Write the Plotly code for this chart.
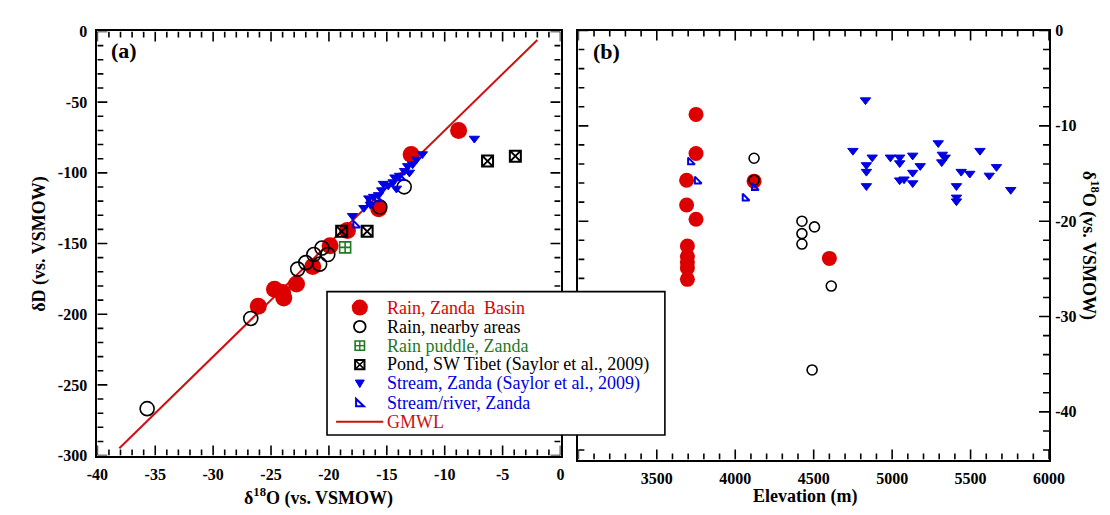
import plotly.graph_objects as go

# ---------------- data: panel (a) dD vs d18O ----------------
rain_zanda_d18O_a = [-8.8, -12.9, -15.7, -18.4, -19.9, -21.4, -22.8, -24.7, -24.0, -23.9, -26.1]
rain_zanda_dD_a = [-70.0, -87.1, -125.4, -140.7, -151.6, -166.2, -178.7, -182.4, -184.7, -188.6, -194.3]

rain_near_d18O_a = [-35.7, -26.75, -22.7, -22.0, -21.3, -20.8, -20.6, -20.1, -15.6, -13.5]
rain_near_dD_a = [-266.8, -203.0, -168.1, -163.5, -157.8, -164.6, -153.2, -157.8, -124.2, -109.9]

puddle_d18O_a = [-18.6]
puddle_dD_a = [-152.7]

pond_d18O_a = [-18.9, -16.7, -6.3, -3.9]
pond_dD_a = [-141.4, -141.4, -91.7, -88.2]

stream_saylor_d18O_a = [-7.44, -11.93, -12.44, -12.77, -13.2, -13.47, -13.05, -13.9, -14.3, -14.46,
                        -14.88, -15.3, -15.44, -14.17, -15.72, -16.14, -16.56, -16.42, -16.98, -17.96]
stream_saylor_dD_a = [-75.7, -86.7, -90.5, -93.9, -95.1, -98.5, -99.7, -101.9, -103.1, -106.5,
                      -108.8, -107.6, -112.2, -111.0, -115.6, -116.8, -117.9, -122.4, -124.7, -130.4]

stream_river_d18O_a = [-13.8, -15.8, -16.5, -17.7]
stream_river_dD_a = [-103.5, -118.5, -121.0, -137.0]

gmwl_d18O = [-38.1, -2.0]
gmwl_dD = [-294.8, -6.0]

# ---------------- data: panel (b) d18O vs elevation ----------------
rain_zanda_elev_b = [3750, 3750, 3690, 3690, 3750, 3695, 3695, 3695, 3695, 3695, 4600, 4120]
rain_zanda_d18O_b = [-8.8, -12.9, -15.7, -18.3, -19.8, -22.6, -23.7, -24.3, -24.9, -26.1, -23.9, -15.8]

rain_near_elev_b = [4120, 4120, 4425, 4425, 4425, 4505, 4612, 4490]
rain_near_d18O_b = [-13.4, -15.7, -20.0, -21.3, -22.4, -20.6, -26.8, -35.6]

stream_saylor_elev_b = [4830, 4750, 4873, 4836, 4836, 4836, 4989, 5048, 5048, 5048, 5076, 5131, 5131,
                        5131, 5179, 5294, 5320, 5338, 5316, 5410, 5410, 5410, 5440, 5495, 5560, 5619,
                        5665, 5756]
stream_saylor_d18O_b = [-7.3, -12.6, -13.3, -14.1, -14.8, -16.3, -13.3, -13.3, -13.9, -15.7, -15.6, -13.1,
                        -14.9, -16.0, -14.2, -11.8, -13.0, -13.3, -13.8, -16.3, -17.5, -17.9, -14.8,
                        -15.0, -12.6, -15.2, -14.3, -16.7]

stream_river_elev_b = [3714, 3757, 4121, 4062]
stream_river_d18O_b = [-13.8, -15.8, -16.5, -17.6]

# ---------------- tick labels (hyphen-minus, as in the original) ----------------
xa_ticktext = ["-40", "-35", "-30", "-25", "-20", "-15", "-10", "-5", "0"]
ya_ticktext = ["-300", "-250", "-200", "-150", "-100", "-50", "0"]
xb_ticktext = ["3500", "4000", "4500", "5000", "5500", "6000"]
yb_ticktext = ["-40", "-30", "-20", "-10", "0"]


def alias(labels):
    # plotly writes negatives with U+2212; map them to the hyphen labels of the original
    return {lab.replace("-", "\u2212"): lab for lab in labels if lab.startswith("-")}


# ---------------- legend ----------------
legend_labels = ["Rain, Zanda\u00a0 Basin", "Rain, nearby areas", "Rain puddle, Zanda",
                 "Pond, SW Tibet (Saylor et al., 2009)", "Stream, Zanda (Saylor et al., 2009)",
                 "Stream/river, Zanda", "GMWL"]

RED = "#dd0000"
LINE_RED = "#cc1010"
BLUE = "#0000e0"
GREEN = "#1e7a1e"
FONT = "Liberation Serif, Times New Roman, serif"

W, H = 1110, 515

# axes frames in pixels
XA_PX, YA_PX = (80.3, 555.0), (454.6, 16.0)
XB_PX, YB_PX = (573.3, 1055.7), (458.7, 15.0)
XA_RANGE, YA_RANGE = [-40, 0], [-300, 0]
XB_RANGE, YB_RANGE = [3000, 6000], [-45, 0]
MAJOR_LEN, MINOR_LEN = 10, 6


def px_x(p):
    return p / W


def px_y(p):
    return 1 - p / H


def px_path(points):
    return "M " + " L ".join(f"{px_x(x):.5f},{px_y(y):.5f}" for x, y in points) + " Z"


fig = go.Figure()

# panel (a)
fig.add_trace(go.Scatter(x=gmwl_d18O, y=gmwl_dD, mode="lines",
                         line=dict(color=LINE_RED, width=2), xaxis="x", yaxis="y"))
fig.add_trace(go.Scatter(x=rain_zanda_d18O_a, y=rain_zanda_dD_a, mode="markers",
                         marker=dict(symbol="circle", size=17, color=RED, line=dict(width=0)),
                         xaxis="x", yaxis="y"))
fig.add_trace(go.Scatter(x=rain_near_d18O_a, y=rain_near_dD_a, mode="markers",
                         marker=dict(symbol="circle-open", size=14, color="black", line=dict(width=1.6)),
                         xaxis="x", yaxis="y"))
fig.add_trace(go.Scatter(x=puddle_d18O_a, y=puddle_dD_a, mode="markers",
                         marker=dict(symbol="square-cross-open", size=11, color=GREEN, line=dict(width=1.6)),
                         xaxis="x", yaxis="y"))
fig.add_trace(go.Scatter(x=pond_d18O_a, y=pond_dD_a, mode="markers",
                         marker=dict(symbol="square-x-open", size=11, color="black", line=dict(width=2)),
                         xaxis="x", yaxis="y"))
fig.add_trace(go.Scatter(x=stream_saylor_d18O_a, y=stream_saylor_dD_a, mode="markers",
                         marker=dict(symbol="triangle-down", size=9, color=BLUE, line=dict(width=1, color=BLUE)),
                         xaxis="x", yaxis="y"))
fig.add_trace(go.Scatter(x=stream_river_d18O_a, y=stream_river_dD_a, mode="markers",
                         marker=dict(symbol="triangle-sw-open", size=7.5, color=BLUE, line=dict(width=2)),
                         xaxis="x", yaxis="y"))

# panel (b)
fig.add_trace(go.Scatter(x=rain_zanda_elev_b, y=rain_zanda_d18O_b, mode="markers",
                         marker=dict(symbol="circle", size=15, color=RED, line=dict(width=0)),
                         xaxis="x2", yaxis="y2"))
fig.add_trace(go.Scatter(x=rain_near_elev_b, y=rain_near_d18O_b, mode="markers",
                         marker=dict(symbol="circle-open", size=10, color="black", line=dict(width=1.6)),
                         xaxis="x2", yaxis="y2"))
fig.add_trace(go.Scatter(x=stream_saylor_elev_b, y=stream_saylor_d18O_b, mode="markers",
                         marker=dict(symbol="triangle-down", size=9, color=BLUE, line=dict(width=1, color=BLUE)),
                         xaxis="x2", yaxis="y2"))
fig.add_trace(go.Scatter(x=stream_river_elev_b, y=stream_river_d18O_b, mode="markers",
                         marker=dict(symbol="triangle-sw-open", size=7.5, color=BLUE, line=dict(width=2)),
                         xaxis="x2", yaxis="y2"))

shapes = []


# ---------------- inward tick marks on all four sides (axis-referenced shapes, pixel lengths) ----------------
def frame_ticks(xref, yref, xr, yr, x_minor, x_major, y_minor, y_major):
    n = int(round((xr[1] - xr[0]) / x_minor))
    for k in range(n + 1):
        v = xr[0] + k * x_minor
        ln = MAJOR_LEN if abs(v / x_major - round(v / x_major)) < 1e-9 else MINOR_LEN
        for anchor, sgn in ((yr[0], 1), (yr[1], -1)):
            shapes.append(dict(type="line", xref=xref, yref=yref, layer="above",
                               ysizemode="pixel", yanchor=anchor, x0=v, x1=v, y0=0, y1=sgn * ln,
                               line=dict(color="black", width=1.6)))
    n = int(round((yr[1] - yr[0]) / y_minor))
    for k in range(n + 1):
        v = yr[1] - k * y_minor
        ln = MAJOR_LEN if abs(v / y_major - round(v / y_major)) < 1e-9 else MINOR_LEN
        for anchor, sgn in ((xr[0], 1), (xr[1], -1)):
            shapes.append(dict(type="line", xref=xref, yref=yref, layer="above",
                               xsizemode="pixel", xanchor=anchor, x0=0, x1=sgn * ln, y0=v, y1=v,
                               line=dict(color="black", width=1.6)))


frame_ticks("x", "y", XA_RANGE, YA_RANGE, 1, 5, 10, 50)
frame_ticks("x2", "y2", XB_RANGE, YB_RANGE, 100, 500, 2, 10)

# ---------------- legend drawn as layout shapes (above both panels) ----------------
BOX_L, BOX_R, BOX_T, BOX_B = 315.7, 662.0, 285.0, 433.3
row_y = [BOX_T + 16.5 + 19.7 * i for i in range(len(legend_labels))]
cx = BOX_L + 33.6
text_x = BOX_L + 59.3

shapes.append(dict(type="rect", xref="paper", yref="paper", layer="above",
                   x0=px_x(BOX_L), x1=px_x(BOX_R), y0=px_y(BOX_B), y1=px_y(BOX_T),
                   fillcolor="white", line=dict(color="black", width=1.6)))


def circ(cy, d, fill, line_color, lw):
    shapes.append(dict(type="circle", xref="paper", yref="paper", layer="above",
                       x0=px_x(cx - d / 2), x1=px_x(cx + d / 2), y0=px_y(cy + d / 2), y1=px_y(cy - d / 2),
                       fillcolor=fill, line=dict(color=line_color, width=lw)))


def seg(x0, y0, x1, y1, color, lw):
    shapes.append(dict(type="line", xref="paper", yref="paper", layer="above",
                       x0=px_x(x0), x1=px_x(x1), y0=px_y(y0), y1=px_y(y1),
                       line=dict(color=color, width=lw)))


def poly(points, fill, color, lw):
    shapes.append(dict(type="path", xref="paper", yref="paper", layer="above", path=px_path(points),
                       fillcolor=fill, line=dict(color=color, width=lw)))


circ(row_y[0], 16.5, RED, RED, 0)
circ(row_y[1], 12, "rgba(0,0,0,0)", "black", 1.8)
s = 4.8
poly([(cx - s, row_y[2] - s), (cx + s, row_y[2] - s), (cx + s, row_y[2] + s), (cx - s, row_y[2] + s)],
     "rgba(0,0,0,0)", GREEN, 1.6)
seg(cx - s, row_y[2], cx + s, row_y[2], GREEN, 1.4)
seg(cx, row_y[2] - s, cx, row_y[2] + s, GREEN, 1.4)
poly([(cx - s, row_y[3] - s), (cx + s, row_y[3] - s), (cx + s, row_y[3] + s), (cx - s, row_y[3] + s)],
     "rgba(0,0,0,0)", "black", 2)
seg(cx - s, row_y[3] - s, cx + s, row_y[3] + s, "black", 1.6)
seg(cx - s, row_y[3] + s, cx + s, row_y[3] - s, "black", 1.6)
poly([(cx - 4.6, row_y[4] - 3.8), (cx + 4.6, row_y[4] - 3.8), (cx, row_y[4] + 4.0)], BLUE, BLUE, 1)
poly([(cx - 3.8, row_y[5] - 4.0), (cx - 3.8, row_y[5] + 3.6), (cx + 4.2, row_y[5] + 3.6)],
     "rgba(0,0,0,0)", BLUE, 2)
seg(BOX_L + 9.3, row_y[6], BOX_L + 57.6, row_y[6], LINE_RED, 2)

legend_colors = [RED, "black", GREEN, "black", BLUE, BLUE, LINE_RED]
annotations = []
for i, (lab, col) in enumerate(zip(legend_labels, legend_colors)):
    annotations.append(dict(x=px_x(text_x), y=px_y(row_y[i]), xref="paper", yref="paper", text=lab,
                            showarrow=False, xanchor="left", yanchor="middle",
                            font=dict(family=FONT, size=18, color=col)))

# titles and panel labels
title_font = dict(family=FONT, size=18, color="black", weight="bold")
annotations += [
    dict(x=px_x(307), y=px_y(497), xref="paper", yref="paper", text="δ<sup>18</sup>O (vs. VSMOW)",
         showarrow=False, xanchor="center", yanchor="middle", font=title_font),
    dict(x=px_x(806), y=px_y(497), xref="paper", yref="paper", text="Elevation (m)",
         showarrow=False, xanchor="center", yanchor="middle", font=title_font),
    dict(x=px_x(21), y=px_y(235), xref="paper", yref="paper", text="δD (vs. VSMOW)",
         showarrow=False, xanchor="center", yanchor="middle", textangle=-90, font=title_font),
    dict(x=px_x(1097), y=px_y(237), xref="paper", yref="paper", text="δ<sup>18</sup>O (vs. VSMOW)",
         showarrow=False, xanchor="center", yanchor="middle", textangle=90, font=title_font),
    dict(x=px_x(92), y=px_y(36), xref="paper", yref="paper", text="(a)",
         showarrow=False, xanchor="left", yanchor="middle",
         font=dict(family=FONT, size=22, color="black", weight="bold")),
    dict(x=px_x(586), y=px_y(37), xref="paper", yref="paper", text="(b)",
         showarrow=False, xanchor="left", yanchor="middle",
         font=dict(family=FONT, size=22, color="black", weight="bold")),
]

tick_font = dict(family=FONT, size=16, color="black", weight="bold")
base = dict(showline=True, linecolor="black", linewidth=2, mirror=True, ticks="",
            showgrid=False, zeroline=False, tickfont=tick_font, fixedrange=True)

fig.update_layout(
    width=W, height=H, autosize=False,
    margin=dict(l=0, r=0, t=0, b=0),
    paper_bgcolor="white", plot_bgcolor="white",
    showlegend=False,
    font=dict(family=FONT, color="black"),
    xaxis=dict(domain=[px_x(XA_PX[0]), px_x(XA_PX[1])], range=XA_RANGE, anchor="y",
               tickmode="linear", tick0=0, dtick=5, labelalias=alias(xa_ticktext),
               ticklabelstandoff=3, **base),
    yaxis=dict(domain=[px_y(YA_PX[0]), px_y(YA_PX[1])], range=YA_RANGE, anchor="x",
               tickmode="linear", tick0=0, dtick=50, labelalias=alias(ya_ticktext),
               ticklabelstandoff=5, **base),
    xaxis2=dict(domain=[px_x(XB_PX[0]), px_x(XB_PX[1])], range=XB_RANGE, anchor="y2",
                tickmode="linear", tick0=0, dtick=500, labelalias={"3000": " "},
                ticklabelstandoff=3, **base),
    yaxis2=dict(domain=[px_y(YB_PX[0]), px_y(YB_PX[1])], range=YB_RANGE, anchor="x2", side="right",
                tickmode="linear", tick0=0, dtick=10, labelalias=alias(yb_ticktext),
                ticklabelstandoff=1, **base),
    shapes=shapes,
    annotations=annotations,
)

fig.write_html("out.html")
